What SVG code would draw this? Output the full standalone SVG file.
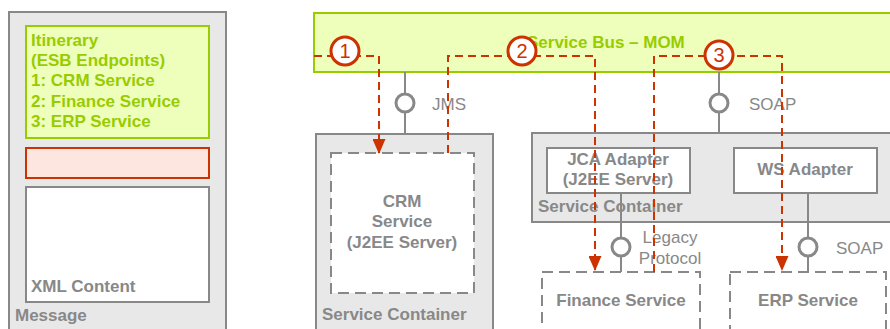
<svg xmlns="http://www.w3.org/2000/svg" width="890" height="329" viewBox="0 0 890 329">
<style>
text{font-family:"Liberation Sans",Arial,sans-serif;font-size:17px}
.g{fill:#888;font-weight:bold}
.gr{fill:#888}
.gn{fill:#99cc00;font-weight:bold}
.box{fill:#e8e8e8;stroke:#888;stroke-width:2}
.wbox{fill:#fff;stroke:#888;stroke-width:2}
.dbox{fill:#fff;stroke:#888;stroke-width:2;stroke-dasharray:11,6}
.lol{fill:#fff;stroke:#888;stroke-width:3}
.ln{stroke:#888;stroke-width:2;fill:none}
.rd{stroke:#cc3300;stroke-width:2;fill:none;stroke-dasharray:8,5}
.num{fill:#fff;stroke:#cc3300;stroke-width:3}
.nt{fill:#cc3300;font-size:20px;text-anchor:middle}
.m{text-anchor:middle}
</style>
<defs>
<marker id="ah" markerWidth="15" markerHeight="13" refX="14" refY="6.5" orient="auto" markerUnits="userSpaceOnUse">
<path d="M0,0 L15,6.5 L0,13 Z" fill="#cc3300"/>
</marker>
</defs>
<rect width="890" height="329" fill="#fff"/>
<g id="message">
<rect class="box" x="9" y="12" width="217" height="330"/>
<text class="g" x="15" y="321">Message</text>
</g>
<g id="itinerary">
<rect x="26" y="26" width="183" height="112" fill="#eeffbb" stroke="#99cc00" stroke-width="2"/>
<text class="gn" x="31" y="46">Itinerary</text>
<text class="gn" x="31" y="66">(ESB Endpoints)</text>
<text class="gn" x="31" y="86">1: CRM Service</text>
<text class="gn" x="31" y="107">2: Finance Service</text>
<text class="gn" x="31" y="127">3: ERP Service</text>
</g>
<g id="header">
<rect x="26" y="148" width="183" height="30" fill="#fde6df" stroke="#cc3300" stroke-width="2"/>
</g>
<g id="xml-content">
<rect class="wbox" x="26" y="187" width="183" height="115"/>
<text class="g" x="31" y="292">XML Content</text>
</g>
<g id="service-bus">
<rect x="314" y="13" width="590" height="59" fill="#eeffbb" stroke="#99cc00" stroke-width="2"/>
<text class="gn" x="527" y="48">Service Bus – MOM</text>
</g>
<g id="crm-container">
<rect class="box" x="316" y="134" width="177" height="210"/>
<text class="g" x="322" y="320">Service Container</text>
</g>
<g id="crm-service">
<rect class="dbox" x="331" y="153" width="143" height="140"/>
<text class="g m" x="402" y="207">CRM</text>
<text class="g m" x="402" y="227">Service</text>
<text class="g m" x="402" y="248">(J2EE Server)</text>
</g>
<g id="adapter-container">
<rect class="box" x="532" y="133" width="370" height="89"/>
<text class="g" x="538" y="212">Service Container</text>
</g>
<g id="jca-adapter">
<rect class="wbox" x="547" y="148" width="143" height="45"/>
<text class="g m" x="618" y="165">JCA Adapter</text>
<text class="g m" x="618" y="185">(J2EE Server)</text>
</g>
<g id="ws-adapter">
<rect class="wbox" x="734" y="148" width="143" height="45"/>
<text class="g m" x="805" y="175">WS Adapter</text>
</g>
<g id="finance-service">
<rect class="dbox" x="542" y="272" width="158" height="80"/>
<text class="g m" x="621" y="306">Finance Service</text>
</g>
<g id="erp-service">
<rect class="dbox" x="730" y="272" width="156" height="80"/>
<text class="g m" x="808" y="306">ERP Service</text>
</g>
<g id="connectors">
<line class="ln" x1="405" y1="72" x2="405" y2="134"/>
<circle class="lol" cx="405" cy="103" r="9"/>
<text class="gr" x="432" y="110">JMS</text>
<line class="ln" x1="719" y1="72" x2="719" y2="133"/>
<circle class="lol" cx="719" cy="103" r="9"/>
<text class="gr" x="749" y="110">SOAP</text>
<line class="ln" x1="621" y1="193" x2="621" y2="272"/>
<circle class="lol" cx="621" cy="247" r="9"/>
<text class="gr m" x="670" y="243">Legacy</text>
<text class="gr m" x="670" y="264">Protocol</text>
<line class="ln" x1="808" y1="193" x2="808" y2="272"/>
<circle class="lol" cx="808" cy="247" r="9"/>
<text class="gr" x="836" y="254">SOAP</text>
<path class="rd" d="M314,56 H379 V153" marker-end="url(#ah)"/>
<path class="rd" d="M448,153 V56 H595 V270" marker-end="url(#ah)"/>
<path class="rd" d="M654,272 V56 H782 V270" marker-end="url(#ah)"/>
<circle class="num" cx="345" cy="51" r="14"/>
<text class="nt" x="345" y="58">1</text>
<circle class="num" cx="522" cy="51" r="14"/>
<text class="nt" x="522" y="58">2</text>
<circle class="num" cx="719" cy="55" r="14"/>
<text class="nt" x="719" y="62">3</text>
</g>
</svg>
